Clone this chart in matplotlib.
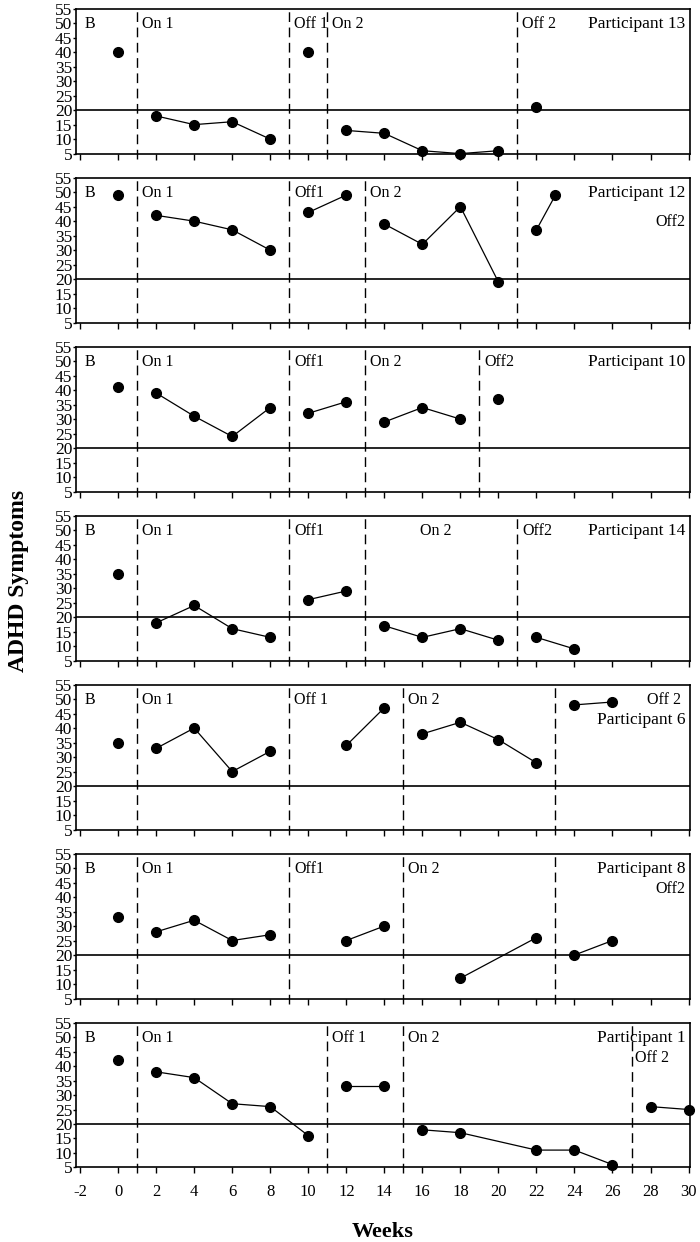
import matplotlib
matplotlib.use('Agg')
import matplotlib.pyplot as plt

plt.rcParams['font.family'] = ['Liberation Serif', 'DejaVu Serif']
plt.rcParams['axes.unicode_minus'] = False

# Scores read per participant (weeks, ADHD symptom scores, phase change weeks)
p13_weeks = [0, 2, 4, 6, 8, 10, 12, 14, 16, 18, 20, 22]
p13_scores = [40, 18, 15, 16, 10, 40, 13, 12, 6, 5, 6, 21]
p13_changes = [1, 9, 11, 21]

p12_weeks = [0, 2, 4, 6, 8, 10, 12, 14, 16, 18, 20, 22, 23]
p12_scores = [49, 42, 40, 37, 30, 43, 49, 39, 32, 45, 19, 37, 49]
p12_changes = [1, 9, 13, 21]

p10_weeks = [0, 2, 4, 6, 8, 10, 12, 14, 16, 18, 20]
p10_scores = [41, 39, 31, 24, 34, 32, 36, 29, 34, 30, 37]
p10_changes = [1, 9, 13, 19]

p14_weeks = [0, 2, 4, 6, 8, 10, 12, 14, 16, 18, 20, 22, 24]
p14_scores = [35, 18, 24, 16, 13, 26, 29, 17, 13, 16, 12, 13, 9]
p14_changes = [1, 9, 13, 21]

p6_weeks = [0, 2, 4, 6, 8, 12, 14, 16, 18, 20, 22, 24, 26]
p6_scores = [35, 33, 40, 25, 32, 34, 47, 38, 42, 36, 28, 48, 49]
p6_changes = [1, 9, 15, 23]

p8_weeks = [0, 2, 4, 6, 8, 12, 14, 18, 22, 24, 26]
p8_scores = [33, 28, 32, 25, 27, 25, 30, 12, 26, 20, 25]
p8_changes = [1, 9, 15, 23]

p1_weeks = [0, 2, 4, 6, 8, 10, 12, 14, 16, 18, 22, 24, 26, 28, 30]
p1_scores = [42, 38, 36, 27, 26, 16, 33, 33, 18, 17, 11, 11, 6, 26, 25]
p1_changes = [1, 11, 15, 27]

participants = ['Participant 13', 'Participant 12', 'Participant 10', 'Participant 14',
                'Participant 6', 'Participant 8', 'Participant 1']
all_weeks = [p13_weeks, p12_weeks, p10_weeks, p14_weeks, p6_weeks, p8_weeks, p1_weeks]
all_scores = [p13_scores, p12_scores, p10_scores, p14_scores, p6_scores, p8_scores, p1_scores]
all_changes = [p13_changes, p12_changes, p10_changes, p14_changes, p6_changes, p8_changes, p1_changes]

phase_labels = [
    ['B', 'On 1', 'Off 1', 'On 2', 'Off 2'],
    ['B', 'On 1', 'Off1', 'On 2', 'Off2'],
    ['B', 'On 1', 'Off1', 'On 2', 'Off2'],
    ['B', 'On 1', 'Off1', 'On 2', 'Off2'],
    ['B', 'On 1', 'Off 1', 'On 2', 'Off 2'],
    ['B', 'On 1', 'Off1', 'On 2', 'Off2'],
    ['B', 'On 1', 'Off 1', 'On 2', 'Off 2'],
]

cutoff = 20
x_ticks = list(range(-2, 31, 2))
y_ticks = list(range(5, 56, 5))

# label positions that do not sit right after the phase line
label_moves = {
    (1, 4): (29.85, 42.5, 'right'),
    (3, 3): (15.9, 52.5, 'left'),
    (4, 4): (29.6, 52.5, 'right'),
    (5, 4): (29.85, 45.5, 'right'),
    (6, 4): (27.2, 45.5, 'left'),
}
name_y = {4: 45.5}


def draw_panel(ax, k):
    weeks = all_weeks[k]
    scores = all_scores[k]
    changes = all_changes[k]
    bounds = [-100] + changes + [100]

    # points and lines, joined only inside one phase
    for i in range(len(bounds) - 1):
        xs = [w for w in weeks if bounds[i] < w < bounds[i + 1]]
        ys = [s for w, s in zip(weeks, scores) if bounds[i] < w < bounds[i + 1]]
        ax.plot(xs, ys, '-', color='black', lw=0.9, marker='o', markersize=7,
                clip_on=False, zorder=3)

    for c in changes:
        ax.axvline(c, ymin=-0.04, ymax=1, color='black', lw=1.0,
                   linestyle=(0, (7, 4)), clip_on=False)
    ax.axhline(cutoff, color='black', lw=1.2)

    starts = [-2] + changes
    for i, lab in enumerate(phase_labels[k]):
        if (k, i) in label_moves:
            x, y, ha = label_moves[(k, i)]
        else:
            x, y, ha = starts[i] + 0.25, 52.5, 'left'
        ax.text(x, y, lab, ha=ha, va='top', fontsize=11.5)

    ax.text(29.85, name_y.get(k, 52.5), participants[k], ha='right', va='top', fontsize=12.5)

    ax.set_xlim(-2.2, 30.05)
    ax.set_ylim(5, 55)
    ax.set_xticks(x_ticks)
    ax.set_yticks(y_ticks)
    ax.tick_params(axis='x', direction='out', length=4, width=1, labelsize=12, pad=8)
    ax.tick_params(axis='y', direction='out', length=2, width=1, labelsize=12.5, pad=1)
    for sp in ax.spines.values():
        sp.set_linewidth(1.2)


fig, axes = plt.subplots(7, 1, figsize=(7, 12.42), dpi=100, sharex=True)
fig.subplots_adjust(left=0.109, right=0.985, top=0.993, bottom=0.06, hspace=0.166)

for k, ax in enumerate(axes):
    draw_panel(ax, k)
    if k < 6:
        ax.tick_params(axis='x', labelbottom=False)

fig.text(0.027, 0.532, 'ADHD Symptoms', rotation=90, ha='center', va='center',
         fontsize=17, fontweight='bold')
fig.text(0.546, 0.008, 'Weeks', ha='center', va='center', fontsize=16, fontweight='bold')

fig.savefig('out.png', dpi=100)
